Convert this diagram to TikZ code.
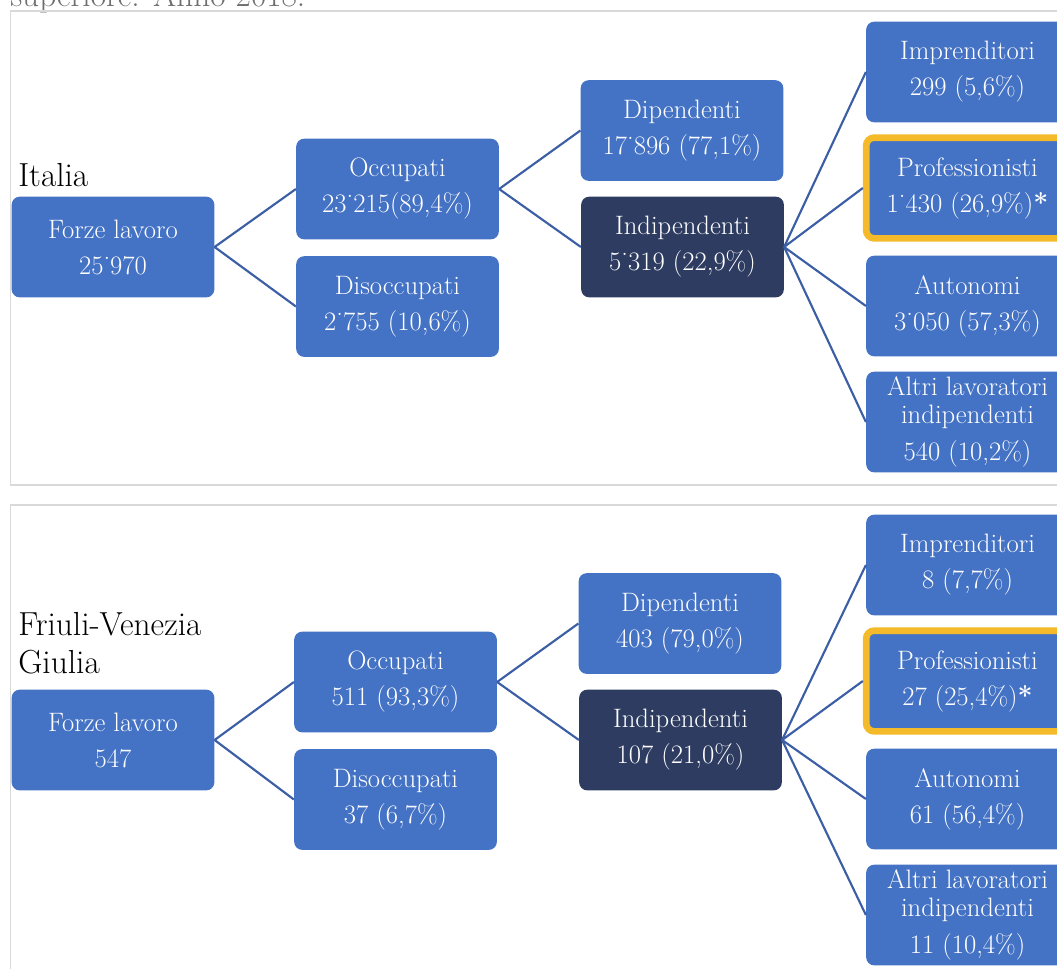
\documentclass[tikz,border=0pt]{standalone}
\usepackage{tikz}
\definecolor{boxblue}{RGB}{68,114,196}
\definecolor{boxdark}{RGB}{46,60,97}
\definecolor{linkblue}{RGB}{60,94,165}
\definecolor{hiyellow}{RGB}{244,186,42}
\definecolor{framegray}{RGB}{217,217,217}
\definecolor{titlegray}{RGB}{110,110,110}
\tikzset{
  cell/.style={rectangle, rounded corners=6pt, fill=boxblue, text=white,
    minimum width=152pt, minimum height=75.5pt, inner sep=0pt, align=center,
    font=\fontsize{20}{27}\selectfont},
  darkcell/.style={cell, fill=boxdark},
  hicell/.style={cell, draw=hiyellow, line width=5pt},
  link/.style={draw=linkblue, line width=1.6pt},
  panel/.style={draw=framegray, line width=1.2pt},
  region/.style={anchor=base west, inner sep=0pt, font=\fontsize{25}{28.5}\selectfont, align=left}
}
\begin{document}
\begin{tikzpicture}[x=0.75pt,y=-0.75pt]
\useasboundingbox (0,0) rectangle (1057,968);
\clip (0,0) rectangle (1057,968);
\fill[white] (0,0) rectangle (1057,968);
% title (cut off at top, as in the source)
\node[region, text=titlegray] (title) at (10,6) {superiore. Anno 2018.};
% panels
\draw[panel] (10.5,11) rectangle (1075,485);
\draw[panel] (10.5,505) rectangle (1075,990);
% ---------- Italia ----------
\node[region] (lblIt) at (18,186) {Italia};
\node[cell] (F1) at (113,247) {Forze lavoro\\25˙970};
\node[cell] (O1) at (397.5,189) {Occupati\\23˙215(89,4\%)};
\node[cell] (D1) at (397.5,306.5) {Disoccupati\\2˙755 (10,6\%)};
\node[cell] (Dip1) at (682,130.5) {Dipendenti\\17˙896 (77,1\%)};
\node[darkcell] (Ind1) at (682.5,247) {Indipendenti\\5˙319 (22,9\%)};
\node[cell] (Imp1) at (967.5,72) {Imprenditori\\299 (5,6\%)};
\node[hicell] (Pro1) at (967.5,188) {Professionisti\\1˙430 (26,9\%)\textbf{*}};
\node[cell] (Aut1) at (967.5,306) {Autonomi\\3˙050 (57,3\%)};
\node[cell] (Alt1) at (967.5,422) {Altri lavoratori\\[-6pt]indipendenti\\[1pt]540 (10,2\%)};
\draw[link] (F1.east) -- (O1.west);
\draw[link] (F1.east) -- (D1.west);
\draw[link] (O1.east) -- (Dip1.west);
\draw[link] (O1.east) -- (Ind1.west);
\draw[link] (Ind1.east) -- (Imp1.west);
\draw[link] (Ind1.east) -- (Pro1.west);
\draw[link] (Ind1.east) -- (Aut1.west);
\draw[link] (Ind1.east) -- (Alt1.west);
% ---------- Friuli-Venezia Giulia ----------
\node[region] (lblFvg) at (18,673) {Friuli-Venezia\\Giulia};
\node[cell] (F2) at (113,740) {Forze lavoro\\547};
\node[cell] (O2) at (395.5,682) {Occupati\\511 (93,3\%)};
\node[cell] (D2) at (395.5,799.5) {Disoccupati\\37 (6,7\%)};
\node[cell] (Dip2) at (680,623.5) {Dipendenti\\403 (79,0\%)};
\node[darkcell] (Ind2) at (680.5,740) {Indipendenti\\107 (21,0\%)};
\node[cell] (Imp2) at (967.5,565) {Imprenditori\\8 (7,7\%)};
\node[hicell] (Pro2) at (967.5,681) {Professionisti\\27 (25,4\%)\textbf{*}};
\node[cell] (Aut2) at (967.5,799) {Autonomi\\61 (56,4\%)};
\node[cell] (Alt2) at (967.5,915) {Altri lavoratori\\[-6pt]indipendenti\\[1pt]11 (10,4\%)};
\draw[link] (F2.east) -- (O2.west);
\draw[link] (F2.east) -- (D2.west);
\draw[link] (O2.east) -- (Dip2.west);
\draw[link] (O2.east) -- (Ind2.west);
\draw[link] (Ind2.east) -- (Imp2.west);
\draw[link] (Ind2.east) -- (Pro2.west);
\draw[link] (Ind2.east) -- (Aut2.west);
\draw[link] (Ind2.east) -- (Alt2.west);
\end{tikzpicture}
\end{document}
